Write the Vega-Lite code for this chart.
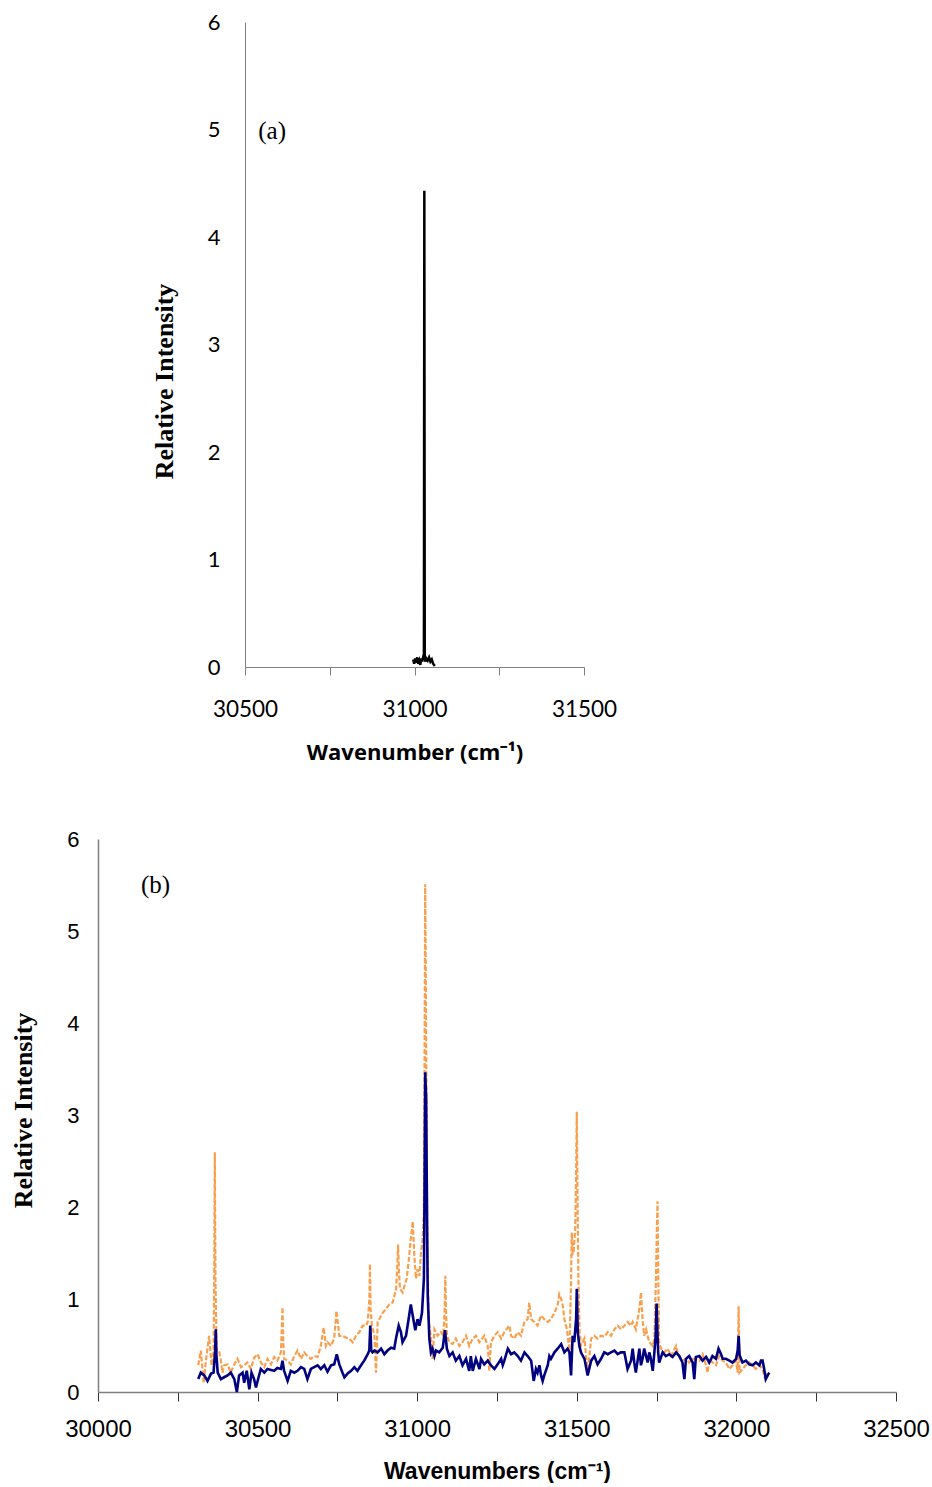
{
  "$schema": "https://vega.github.io/schema/vega-lite/v6.json",
  "background": "white",
  "padding": {"left": 10, "top": 11, "right": 0, "bottom": 0},
  "config": {"view": {"stroke": null}, "axis": {"grid": false}},
  "datasets": {
    "a": [
      {"wn":30996,"ri":0.07},{"wn":30999,"ri":0.03},{"wn":31002,"ri":0.08},{"wn":31005,"ri":0.04},{"wn":31008,"ri":0.09},{"wn":31011,"ri":0.03},{"wn":31014,"ri":0.06},{"wn":31017,"ri":0.02},{"wn":31020,"ri":0.08},{"wn":31023,"ri":0.05},{"wn":31026,"ri":0.1},{"wn":31027.8,"ri":0.12},{"wn":31029,"ri":4.43},{"wn":31030.2,"ri":0.12},{"wn":31032,"ri":0.05},{"wn":31035,"ri":0.08},{"wn":31039,"ri":0.06},{"wn":31043,"ri":0.09},{"wn":31047,"ri":0.05},{"wn":31051,"ri":0.07},{"wn":31055,"ri":0.03},{"wn":31060,"ri":0.01}
    ],
    "alabel": [{"wn": 30580, "ri": 4.99, "t": "(a)"}],
    "blabel": [{"wn": 30180, "ri": 5.5, "t": "(b)"}],
    "orange": [
      {"wn":30314,"ri":0.29},{"wn":30322,"ri":0.45},{"wn":30331,"ri":0.10},{"wn":30338,"ri":0.34},{"wn":30348,"ri":0.61},{"wn":30356,"ri":0.29},{"wn":30362,"ri":0.43},{"wn":30364,"ri":1.2},{"wn":30366,"ri":2.6},{"wn":30368,"ri":1.2},{"wn":30372,"ri":0.43},{"wn":30380,"ri":0.43},{"wn":30385,"ri":0.34},{"wn":30390,"ri":0.21},{"wn":30395,"ri":0.29},{"wn":30406,"ri":0.30},{"wn":30416,"ri":0.21},{"wn":30427,"ri":0.30},{"wn":30437,"ri":0.36},{"wn":30448,"ri":0.27},{"wn":30458,"ri":0.29},{"wn":30468,"ri":0.32},{"wn":30479,"ri":0.25},{"wn":30489,"ri":0.37},{"wn":30500,"ri":0.41},{"wn":30510,"ri":0.32},{"wn":30521,"ri":0.27},{"wn":30531,"ri":0.36},{"wn":30542,"ri":0.30},{"wn":30552,"ri":0.38},{"wn":30562,"ri":0.34},{"wn":30573,"ri":0.43},{"wn":30576,"ri":0.7},{"wn":30578,"ri":0.92},{"wn":30580,"ri":0.6},{"wn":30583,"ri":0.36},{"wn":30594,"ri":0.34},{"wn":30604,"ri":0.30},{"wn":30615,"ri":0.39},{"wn":30625,"ri":0.45},{"wn":30636,"ri":0.36},{"wn":30646,"ri":0.43},{"wn":30656,"ri":0.39},{"wn":30667,"ri":0.36},{"wn":30677,"ri":0.39},{"wn":30688,"ri":0.38},{"wn":30698,"ri":0.50},{"wn":30707,"ri":0.70},{"wn":30714,"ri":0.50},{"wn":30719,"ri":0.54},{"wn":30730,"ri":0.50},{"wn":30740,"ri":0.58},{"wn":30747,"ri":0.88},{"wn":30756,"ri":0.61},{"wn":30766,"ri":0.61},{"wn":30777,"ri":0.59},{"wn":30787,"ri":0.58},{"wn":30798,"ri":0.54},{"wn":30808,"ri":0.61},{"wn":30819,"ri":0.65},{"wn":30829,"ri":0.72},{"wn":30840,"ri":0.72},{"wn":30845,"ri":0.76},{"wn":30850,"ri":1.0},{"wn":30852,"ri":1.39},{"wn":30854,"ri":0.9},{"wn":30858,"ri":0.72},{"wn":30866,"ri":0.61},{"wn":30871,"ri":0.21},{"wn":30876,"ri":0.76},{"wn":30881,"ri":0.79},{"wn":30892,"ri":0.86},{"wn":30902,"ri":0.90},{"wn":30913,"ri":0.95},{"wn":30923,"ri":0.97},{"wn":30934,"ri":1.12},{"wn":30938,"ri":1.4},{"wn":30940,"ri":1.60},{"wn":30943,"ri":1.3},{"wn":30946,"ri":1.12},{"wn":30954,"ri":1.08},{"wn":30960,"ri":1.15},{"wn":30967,"ri":1.23},{"wn":30973,"ri":1.41},{"wn":30980,"ri":1.66},{"wn":30986,"ri":1.85},{"wn":30991,"ri":1.48},{"wn":30996,"ri":1.23},{"wn":31001,"ri":1.33},{"wn":31007,"ri":1.26},{"wn":31012,"ri":1.52},{"wn":31017,"ri":1.66},{"wn":31021,"ri":1.95},{"wn":31023,"ri":3.5},{"wn":31025,"ri":5.51},{"wn":31027,"ri":4.5},{"wn":31030,"ri":2.5},{"wn":31032,"ri":1.59},{"wn":31036,"ri":0.79},{"wn":31043,"ri":0.58},{"wn":31048,"ri":0.36},{"wn":31054,"ri":0.68},{"wn":31064,"ri":0.61},{"wn":31074,"ri":0.65},{"wn":31082,"ri":0.61},{"wn":31086,"ri":0.9},{"wn":31088,"ri":1.26},{"wn":31090,"ri":0.9},{"wn":31093,"ri":0.61},{"wn":31101,"ri":0.54},{"wn":31111,"ri":0.52},{"wn":31121,"ri":0.58},{"wn":31132,"ri":0.50},{"wn":31142,"ri":0.54},{"wn":31153,"ri":0.61},{"wn":31163,"ri":0.50},{"wn":31174,"ri":0.58},{"wn":31184,"ri":0.61},{"wn":31195,"ri":0.54},{"wn":31200,"ri":0.56},{"wn":31210,"ri":0.61},{"wn":31221,"ri":0.50},{"wn":31226,"ri":0.23},{"wn":31231,"ri":0.54},{"wn":31242,"ri":0.61},{"wn":31252,"ri":0.65},{"wn":31263,"ri":0.58},{"wn":31273,"ri":0.65},{"wn":31284,"ri":0.70},{"wn":31289,"ri":0.72},{"wn":31294,"ri":0.61},{"wn":31304,"ri":0.58},{"wn":31315,"ri":0.65},{"wn":31325,"ri":0.61},{"wn":31336,"ri":0.76},{"wn":31346,"ri":0.79},{"wn":31351,"ri":0.97},{"wn":31357,"ri":0.79},{"wn":31367,"ri":0.76},{"wn":31377,"ri":0.72},{"wn":31388,"ri":0.83},{"wn":31398,"ri":0.79},{"wn":31409,"ri":0.76},{"wn":31419,"ri":0.79},{"wn":31430,"ri":0.86},{"wn":31440,"ri":0.94},{"wn":31445,"ri":1.06},{"wn":31451,"ri":1.01},{"wn":31456,"ri":0.94},{"wn":31461,"ri":0.79},{"wn":31469,"ri":0.68},{"wn":31477,"ri":0.45},{"wn":31482,"ri":1.2},{"wn":31484,"ri":1.73},{"wn":31487,"ri":1.5},{"wn":31490,"ri":1.52},{"wn":31495,"ri":1.77},{"wn":31498,"ri":2.4},{"wn":31500,"ri":3.04},{"wn":31502,"ri":2.2},{"wn":31505,"ri":1.23},{"wn":31509,"ri":0.65},{"wn":31513,"ri":0.50},{"wn":31524,"ri":0.58},{"wn":31534,"ri":0.21},{"wn":31545,"ri":0.58},{"wn":31555,"ri":0.61},{"wn":31565,"ri":0.58},{"wn":31576,"ri":0.61},{"wn":31586,"ri":0.60},{"wn":31597,"ri":0.65},{"wn":31607,"ri":0.61},{"wn":31618,"ri":0.68},{"wn":31628,"ri":0.72},{"wn":31638,"ri":0.68},{"wn":31649,"ri":0.72},{"wn":31659,"ri":0.76},{"wn":31670,"ri":0.72},{"wn":31675,"ri":0.76},{"wn":31685,"ri":0.68},{"wn":31696,"ri":0.90},{"wn":31701,"ri":1.08},{"wn":31706,"ri":0.79},{"wn":31711,"ri":0.61},{"wn":31717,"ri":0.68},{"wn":31727,"ri":0.54},{"wn":31738,"ri":0.50},{"wn":31743,"ri":0.58},{"wn":31748,"ri":1.23},{"wn":31751,"ri":1.8},{"wn":31753,"ri":2.07},{"wn":31755,"ri":1.3},{"wn":31758,"ri":0.54},{"wn":31764,"ri":0.47},{"wn":31774,"ri":0.43},{"wn":31785,"ri":0.47},{"wn":31795,"ri":0.39},{"wn":31811,"ri":0.50},{"wn":31816,"ri":0.43},{"wn":31821,"ri":0.39},{"wn":31831,"ri":0.34},{"wn":31842,"ri":0.36},{"wn":31852,"ri":0.32},{"wn":31863,"ri":0.36},{"wn":31873,"ri":0.36},{"wn":31884,"ri":0.34},{"wn":31894,"ri":0.41},{"wn":31905,"ri":0.29},{"wn":31910,"ri":0.21},{"wn":31915,"ri":0.36},{"wn":31925,"ri":0.32},{"wn":31936,"ri":0.29},{"wn":31946,"ri":0.39},{"wn":31957,"ri":0.34},{"wn":31967,"ri":0.32},{"wn":31978,"ri":0.25},{"wn":31988,"ri":0.29},{"wn":31999,"ri":0.34},{"wn":32004,"ri":0.21},{"wn":32007,"ri":0.93},{"wn":32010,"ri":0.21},{"wn":32019,"ri":0.25},{"wn":32030,"ri":0.29},{"wn":32040,"ri":0.32},{"wn":32051,"ri":0.29},{"wn":32061,"ri":0.25},{"wn":32072,"ri":0.29},{"wn":32082,"ri":0.25},{"wn":32090,"ri":0.14},{"wn":32092,"ri":0.21}
    ],
    "navy": [
      {"wn":30314,"ri":0.14},{"wn":30322,"ri":0.21},{"wn":30333,"ri":0.18},{"wn":30343,"ri":0.12},{"wn":30354,"ri":0.20},{"wn":30362,"ri":0.21},{"wn":30367,"ri":0.45},{"wn":30369,"ri":0.68},{"wn":30371,"ri":0.40},{"wn":30375,"ri":0.21},{"wn":30385,"ri":0.14},{"wn":30395,"ri":0.16},{"wn":30406,"ri":0.18},{"wn":30416,"ri":0.21},{"wn":30427,"ri":0.14},{"wn":30435,"ri":0.0},{"wn":30442,"ri":0.18},{"wn":30453,"ri":0.21},{"wn":30458,"ri":0.10},{"wn":30466,"ri":0.23},{"wn":30474,"ri":0.03},{"wn":30481,"ri":0.21},{"wn":30489,"ri":0.14},{"wn":30495,"ri":0.05},{"wn":30500,"ri":0.12},{"wn":30510,"ri":0.25},{"wn":30521,"ri":0.21},{"wn":30531,"ri":0.25},{"wn":30542,"ri":0.24},{"wn":30552,"ri":0.23},{"wn":30562,"ri":0.26},{"wn":30573,"ri":0.25},{"wn":30578,"ri":0.34},{"wn":30583,"ri":0.23},{"wn":30594,"ri":0.12},{"wn":30604,"ri":0.23},{"wn":30615,"ri":0.21},{"wn":30625,"ri":0.23},{"wn":30636,"ri":0.27},{"wn":30646,"ri":0.25},{"wn":30656,"ri":0.14},{"wn":30667,"ri":0.25},{"wn":30677,"ri":0.27},{"wn":30688,"ri":0.29},{"wn":30698,"ri":0.25},{"wn":30709,"ri":0.29},{"wn":30719,"ri":0.22},{"wn":30730,"ri":0.29},{"wn":30740,"ri":0.30},{"wn":30748,"ri":0.41},{"wn":30756,"ri":0.30},{"wn":30766,"ri":0.21},{"wn":30772,"ri":0.16},{"wn":30782,"ri":0.20},{"wn":30793,"ri":0.23},{"wn":30803,"ri":0.27},{"wn":30813,"ri":0.23},{"wn":30824,"ri":0.29},{"wn":30834,"ri":0.34},{"wn":30845,"ri":0.41},{"wn":30850,"ri":0.45},{"wn":30853,"ri":0.72},{"wn":30856,"ri":0.45},{"wn":30860,"ri":0.43},{"wn":30866,"ri":0.45},{"wn":30876,"ri":0.43},{"wn":30887,"ri":0.47},{"wn":30897,"ri":0.41},{"wn":30907,"ri":0.45},{"wn":30918,"ri":0.48},{"wn":30928,"ri":0.47},{"wn":30934,"ri":0.59},{"wn":30942,"ri":0.72},{"wn":30949,"ri":0.65},{"wn":30954,"ri":0.54},{"wn":30965,"ri":0.61},{"wn":30973,"ri":0.79},{"wn":30980,"ri":0.95},{"wn":30988,"ri":0.79},{"wn":30994,"ri":0.67},{"wn":31001,"ri":0.79},{"wn":31007,"ri":0.72},{"wn":31015,"ri":0.86},{"wn":31021,"ri":1.23},{"wn":31023,"ri":2.2},{"wn":31025,"ri":3.47},{"wn":31028,"ri":3.2},{"wn":31031,"ri":1.8},{"wn":31033,"ri":1.05},{"wn":31038,"ri":0.58},{"wn":31043,"ri":0.43},{"wn":31048,"ri":0.47},{"wn":31054,"ri":0.39},{"wn":31059,"ri":0.45},{"wn":31069,"ri":0.43},{"wn":31080,"ri":0.48},{"wn":31087,"ri":0.67},{"wn":31093,"ri":0.47},{"wn":31101,"ri":0.39},{"wn":31111,"ri":0.43},{"wn":31121,"ri":0.34},{"wn":31132,"ri":0.39},{"wn":31142,"ri":0.29},{"wn":31153,"ri":0.36},{"wn":31163,"ri":0.23},{"wn":31168,"ri":0.39},{"wn":31174,"ri":0.23},{"wn":31184,"ri":0.36},{"wn":31195,"ri":0.25},{"wn":31200,"ri":0.36},{"wn":31210,"ri":0.30},{"wn":31221,"ri":0.34},{"wn":31231,"ri":0.29},{"wn":31242,"ri":0.25},{"wn":31252,"ri":0.30},{"wn":31263,"ri":0.36},{"wn":31268,"ri":0.29},{"wn":31273,"ri":0.34},{"wn":31284,"ri":0.47},{"wn":31294,"ri":0.41},{"wn":31304,"ri":0.43},{"wn":31315,"ri":0.39},{"wn":31325,"ri":0.34},{"wn":31336,"ri":0.43},{"wn":31346,"ri":0.39},{"wn":31357,"ri":0.34},{"wn":31365,"ri":0.12},{"wn":31372,"ri":0.25},{"wn":31377,"ri":0.21},{"wn":31383,"ri":0.29},{"wn":31388,"ri":0.18},{"wn":31393,"ri":0.12},{"wn":31398,"ri":0.18},{"wn":31409,"ri":0.29},{"wn":31414,"ri":0.39},{"wn":31419,"ri":0.36},{"wn":31430,"ri":0.43},{"wn":31440,"ri":0.47},{"wn":31451,"ri":0.52},{"wn":31461,"ri":0.43},{"wn":31471,"ri":0.47},{"wn":31477,"ri":0.43},{"wn":31482,"ri":0.18},{"wn":31487,"ri":0.61},{"wn":31492,"ri":0.54},{"wn":31498,"ri":0.80},{"wn":31500,"ri":1.12},{"wn":31503,"ri":0.65},{"wn":31508,"ri":0.50},{"wn":31513,"ri":0.43},{"wn":31524,"ri":0.36},{"wn":31534,"ri":0.18},{"wn":31545,"ri":0.34},{"wn":31555,"ri":0.39},{"wn":31565,"ri":0.30},{"wn":31576,"ri":0.36},{"wn":31586,"ri":0.43},{"wn":31597,"ri":0.41},{"wn":31607,"ri":0.43},{"wn":31618,"ri":0.45},{"wn":31628,"ri":0.41},{"wn":31638,"ri":0.43},{"wn":31649,"ri":0.43},{"wn":31659,"ri":0.25},{"wn":31670,"ri":0.34},{"wn":31675,"ri":0.47},{"wn":31680,"ri":0.32},{"wn":31685,"ri":0.21},{"wn":31696,"ri":0.47},{"wn":31701,"ri":0.29},{"wn":31706,"ri":0.36},{"wn":31711,"ri":0.47},{"wn":31717,"ri":0.39},{"wn":31722,"ri":0.32},{"wn":31727,"ri":0.43},{"wn":31732,"ri":0.36},{"wn":31738,"ri":0.23},{"wn":31743,"ri":0.43},{"wn":31747,"ri":0.6},{"wn":31750,"ri":0.96},{"wn":31753,"ri":0.6},{"wn":31755,"ri":0.43},{"wn":31758,"ri":0.32},{"wn":31769,"ri":0.43},{"wn":31779,"ri":0.39},{"wn":31790,"ri":0.41},{"wn":31800,"ri":0.38},{"wn":31811,"ri":0.43},{"wn":31821,"ri":0.39},{"wn":31831,"ri":0.32},{"wn":31837,"ri":0.14},{"wn":31842,"ri":0.36},{"wn":31852,"ri":0.39},{"wn":31863,"ri":0.32},{"wn":31868,"ri":0.14},{"wn":31873,"ri":0.38},{"wn":31884,"ri":0.39},{"wn":31894,"ri":0.34},{"wn":31905,"ri":0.38},{"wn":31915,"ri":0.32},{"wn":31925,"ri":0.39},{"wn":31936,"ri":0.36},{"wn":31944,"ri":0.47},{"wn":31952,"ri":0.41},{"wn":31957,"ri":0.36},{"wn":31967,"ri":0.36},{"wn":31978,"ri":0.34},{"wn":31988,"ri":0.32},{"wn":31999,"ri":0.36},{"wn":32004,"ri":0.45},{"wn":32007,"ri":0.61},{"wn":32010,"ri":0.40},{"wn":32019,"ri":0.32},{"wn":32030,"ri":0.34},{"wn":32040,"ri":0.30},{"wn":32051,"ri":0.29},{"wn":32061,"ri":0.32},{"wn":32072,"ri":0.29},{"wn":32077,"ri":0.34},{"wn":32082,"ri":0.34},{"wn":32087,"ri":0.25},{"wn":32092,"ri":0.14},{"wn":32098,"ri":0.18},{"wn":32103,"ri":0.21}
    ]
  },
  "spacing": 64,
  "vconcat": [
    {
      "spacing": 0,
      "hconcat": [
        {
          "width": 53,
          "height": 1,
          "data": {"values": [{}]},
          "mark": {"type": "text", "text": ""}
        },
        {
          "width": 339,
          "height": 645,
          "layer": [
            {
              "data": {"name": "a"},
              "mark": {"type": "line", "color": "#000000", "strokeWidth": 2.5},
              "encoding": {
                "x": {
                  "field": "wn", "type": "quantitative",
                  "scale": {"domain": [30500, 31500], "nice": false, "zero": false},
                  "axis": {
                    "title": "Wavenumber (cm⁻¹)",
                    "values": [30500, 30750, 31000, 31250, 31500],
                    "format": "d",
                    "labelExpr": "datum.value % 500 === 0 ? datum.label : ''",
                    "labelFont": "Lato", "labelFontSize": 22.5, "labelColor": "#000000",
                    "labelPadding": 23, "labelFlush": false,
                    "tickSize": 8, "tickColor": "#808080", "tickWidth": 1,
                    "domainColor": "#808080", "domainWidth": 1,
                    "titleFont": "Open Sans", "titleFontSize": 22, "titleFontWeight": "bold", "titleColor": "#000000",
                    "titlePadding": 22
                  }
                },
                "y": {
                  "field": "ri", "type": "quantitative",
                  "scale": {"domain": [0, 6], "nice": false},
                  "axis": {
                    "title": "Relative Intensity",
                    "values": [0, 1, 2, 3, 4, 5, 6],
                    "format": "d",
                    "ticks": false,
                    "labelFont": "Lato", "labelFontSize": 22, "labelColor": "#000000",
                    "labelPadding": 25,
                    "domainColor": "#808080", "domainWidth": 1,
                    "titleFont": "Liberation Serif", "titleFontSize": 26, "titleFontWeight": "bold", "titleColor": "#000000",
                    "titlePadding": 30, "titleY": 359
                  }
                }
              }
            },
            {
              "data": {"name": "alabel"},
              "mark": {"type": "text", "font": "Liberation Serif", "fontSize": 25, "color": "#000000", "align": "center", "baseline": "middle"},
              "encoding": {
                "x": {"field": "wn", "type": "quantitative"},
                "y": {"field": "ri", "type": "quantitative"},
                "text": {"field": "t"}
              }
            }
          ]
        }
      ]
    },
    {
      "width": 798,
      "height": 553,
      "encoding": {
        "x": {
          "field": "wn", "type": "quantitative",
          "scale": {"domain": [30000, 32500], "nice": false, "zero": false},
          "axis": {
            "title": "Wavenumbers (cm⁻¹)",
            "values": [30000, 30250, 30500, 30750, 31000, 31250, 31500, 31750, 32000, 32250, 32500],
            "format": "d",
            "labelExpr": "datum.value % 500 === 0 ? datum.label : ''",
            "labelFont": "Liberation Sans", "labelFontSize": 24, "labelColor": "#000000",
            "labelPadding": 16, "labelFlush": false,
            "tickSize": 9, "tickColor": "#333333", "tickWidth": 1,
            "domainColor": "#808080", "domainWidth": 1.5,
            "titleFont": "Liberation Sans", "titleFontSize": 23, "titleFontWeight": "bold", "titleColor": "#000000",
            "titlePadding": 19
          }
        },
        "y": {
          "field": "ri", "type": "quantitative",
          "scale": {"domain": [0, 6], "nice": false},
          "axis": {
            "title": "Relative Intensity",
            "values": [0, 1, 2, 3, 4, 5, 6],
            "format": "d",
            "ticks": false,
            "labelFont": "Liberation Sans", "labelFontSize": 22, "labelColor": "#000000",
            "labelPadding": 19,
            "domainColor": "#808080", "domainWidth": 1.5,
            "titleFont": "Liberation Serif", "titleFontSize": 26, "titleFontWeight": "bold", "titleColor": "#000000",
            "titlePadding": 30, "titleY": 271
          }
        }
      },
      "layer": [
        {
          "data": {"name": "orange"},
          "mark": {"type": "line", "color": "#F9A050", "strokeWidth": 2.2, "strokeDash": [5, 2]}
        },
        {
          "data": {"name": "navy"},
          "mark": {"type": "line", "color": "#000080", "strokeWidth": 2.6}
        },
        {
          "data": {"name": "blabel"},
          "mark": {"type": "text", "font": "Liberation Serif", "fontSize": 25, "color": "#000000", "align": "center", "baseline": "middle"},
          "encoding": {"text": {"field": "t"}}
        }
      ]
    }
  ]
}
